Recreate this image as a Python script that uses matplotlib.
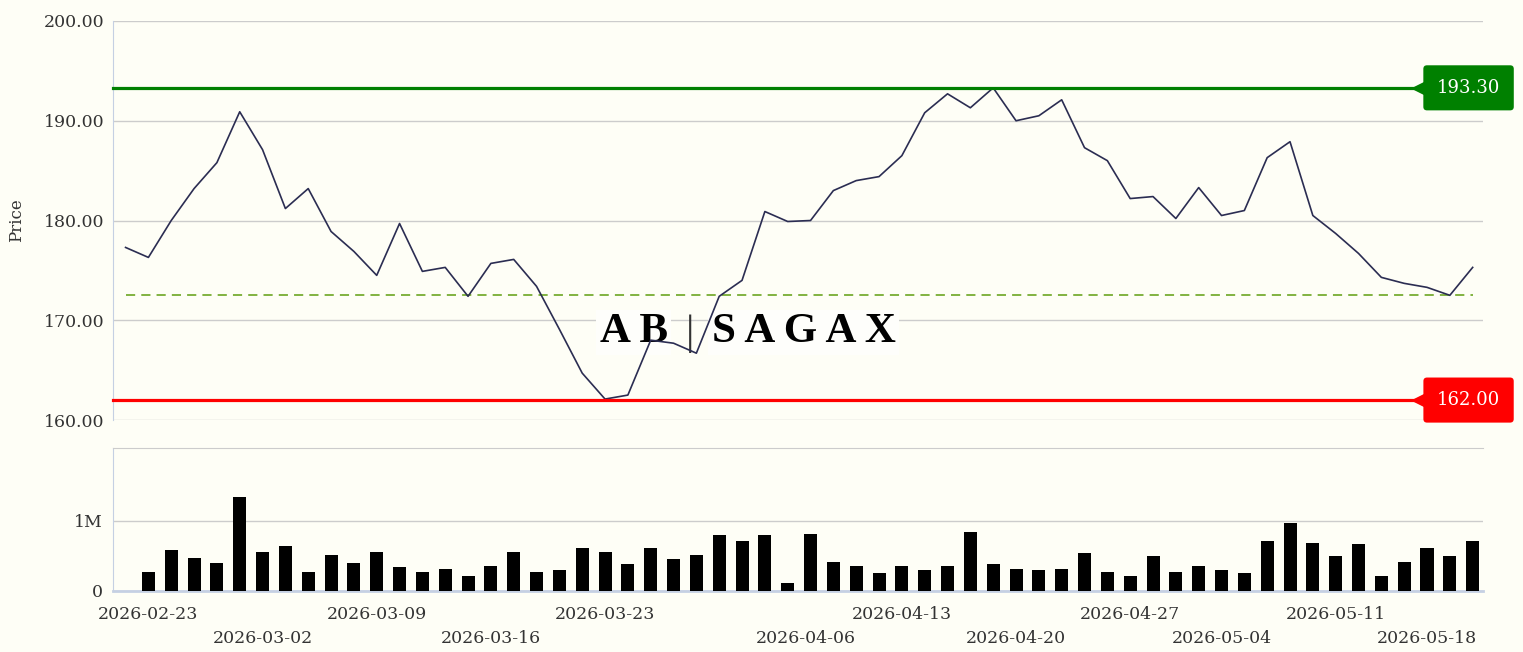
import numpy as np
import pandas as pd
import matplotlib
matplotlib.use("Agg")
import matplotlib.pyplot as plt
import matplotlib.transforms as mtransforms

plt.rcParams['font.family'] = ['DejaVu Serif']

# trading days (Stockholm holidays removed)
holidays = ['2026-04-03', '2026-04-06', '2026-05-01', '2026-05-14']
dates = pd.bdate_range('2026-02-20', '2026-05-20')
dates = dates[~dates.isin(pd.to_datetime(holidays))]

prices = [177.3, 176.3, 180.0, 183.2, 185.8, 190.9, 187.1, 181.2, 183.2, 178.9,
          176.9, 174.5, 179.7, 174.9, 175.3, 172.4, 175.7, 176.1, 173.4, 169.1,
          164.7, 162.1, 162.5, 168.0, 167.7, 166.7, 172.4, 174.0, 180.9, 179.9,
          180.0, 183.0, 184.0, 184.4, 186.5, 190.8, 192.7, 191.3, 193.3, 190.0,
          190.5, 192.1, 187.3, 186.0, 182.2, 182.4, 180.2, 183.3, 180.5, 181.0,
          186.3, 187.9, 180.5, 178.7, 176.7, 174.3, 173.7, 173.3, 172.5, 175.3]

# volume in millions
volumes = [0, 0.27, 0.58, 0.47, 0.40, 1.34, 0.55, 0.64, 0.27, 0.51,
           0.40, 0.55, 0.34, 0.27, 0.31, 0.21, 0.35, 0.55, 0.27, 0.30,
           0.62, 0.55, 0.38, 0.62, 0.45, 0.51, 0.80, 0.71, 0.80, 0.12,
           0.81, 0.42, 0.35, 0.25, 0.35, 0.30, 0.35, 0.84, 0.38, 0.31,
           0.30, 0.31, 0.54, 0.27, 0.22, 0.50, 0.27, 0.35, 0.30, 0.25,
           0.72, 0.97, 0.68, 0.50, 0.67, 0.21, 0.42, 0.62, 0.50, 0.72]

resistance = 193.30
support = 162.00
reference = 172.5

tick_dates = ['2026-02-23', '2026-03-02', '2026-03-09', '2026-03-16',
              '2026-03-23', '2026-04-06', '2026-04-13', '2026-04-20',
              '2026-04-27', '2026-05-04', '2026-05-11', '2026-05-18']

bg = '#fefef6'
grid_c = '#cccccc'
spine_c = '#c5d0e3'
text_c = '#333333'
fs = 12.5

x = np.arange(len(dates)) - 1
# tick positions interpolated over trading days (so holidays land in between)
ords = np.array([d.toordinal() for d in dates])
tick_x = np.interp([pd.Timestamp(t).toordinal() for t in tick_dates], ords, x)

fig = plt.figure(figsize=(15.23, 6.52), dpi=100, facecolor=bg)
ax = fig.add_axes([0.0742, 0.3558, 0.8995, 0.612], facecolor=bg)
axv = fig.add_axes([0.0742, 0.0936, 0.8995, 0.2193], facecolor=bg)

# price panel
ax.plot(x, prices, color='#2b2d52', lw=1.2, zorder=4)
ax.hlines(reference, x[0], x[-1], colors='#5f9e10', linestyles=(0, (6, 4)), lw=1.1, zorder=3)

trans = mtransforms.blended_transform_factory(ax.transAxes, ax.transData)
for val, col in [(resistance, '#008000'), (support, '#ff0000')]:
    ax.plot([0, 0.953], [val, val], color=col, lw=2.3, transform=trans, zorder=5, clip_on=False)
    ax.plot(0.9535, val, marker='<', ms=10, color=col, mec=col, transform=trans,
            zorder=6, clip_on=False)
    ax.text(0.9895, val, f'{val:.2f}', color='white', fontsize=13, ha='center', va='center',
            transform=trans, zorder=7, clip_on=False,
            bbox=dict(boxstyle='round,pad=0.75,rounding_size=0.2', fc=col, ec='none'))

ax.set_ylim(160, 200)
ax.set_yticks([160, 170, 180, 190, 200])
ax.set_yticklabels([f'{v:.2f}' for v in [160, 170, 180, 190, 200]])
ax.set_xlim(-1.55, 58.45)
ax.set_xticks([])
ax.grid(axis='y', color=grid_c, lw=1.0, zorder=0)
ax.tick_params(axis='y', length=0, pad=6, labelsize=fs, labelcolor=text_c)
for s in ['top', 'right', 'bottom']:
    ax.spines[s].set_visible(False)
ax.spines['left'].set_color(spine_c)
ax.set_ylabel('Price', fontsize=12, color=text_c, labelpad=14)

# watermark
wm = dict(transform=ax.transAxes, va='baseline', fontsize=31, fontweight='bold',
          family='Liberation Serif', color='black', zorder=2,
          bbox=dict(boxstyle='square,pad=0.08', fc='#fefefb', ec='none'))
ax.text(0.405, 0.195, 'A B', ha='right', **wm)
ax.text(0.437, 0.195, 'S A G A X', ha='left', **wm)
ax.text(0.4215, 0.19, '|', transform=ax.transAxes, ha='center', va='baseline',
        fontsize=30, family='Liberation Serif', color='#333333', zorder=2)

# volume panel
axv.bar(x, np.array(volumes) * 1e6, width=0.57, color='black', zorder=3)
axv.set_ylim(0, 2.04e6)
axv.set_yticks([0, 1e6])
axv.set_yticklabels(['0', '1M'])
axv.grid(axis='y', color=grid_c, lw=1.0, zorder=0)
axv.tick_params(axis='y', length=0, pad=7, labelsize=fs, labelcolor=text_c)
axv.spines['right'].set_visible(False)
axv.spines['top'].set_color(grid_c)
axv.spines['left'].set_color(spine_c)
axv.spines['bottom'].set_color(spine_c)
axv.spines['bottom'].set_linewidth(2)

axv.set_xticks(tick_x[0::2])
axv.set_xticklabels(tick_dates[0::2])
axv.set_xticks(tick_x[1::2], minor=True)
axv.set_xticklabels(tick_dates[1::2], minor=True)
axv.tick_params(axis='x', which='major', length=0, pad=11, labelsize=fs, labelcolor=text_c)
axv.tick_params(axis='x', which='minor', length=0, pad=28, labelsize=fs, labelcolor=text_c)
axv.set_xlim(-1.55, 58.45)

fig.savefig('out.png', dpi=100, facecolor=bg)
